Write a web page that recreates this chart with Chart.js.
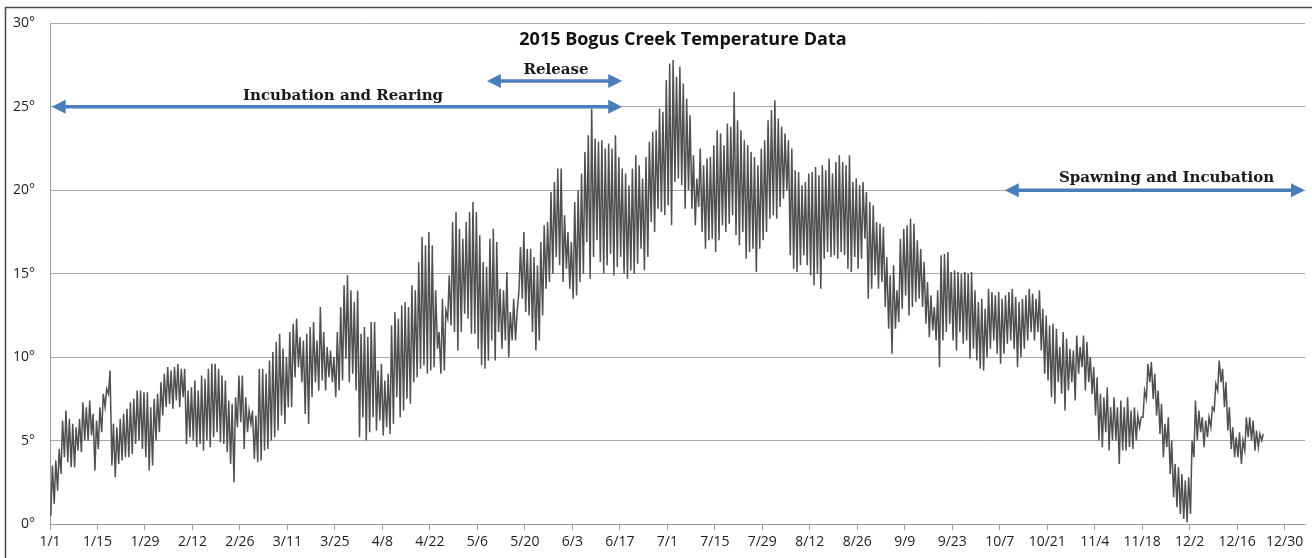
<!DOCTYPE html>
<html>
<head>
<meta charset="utf-8">
<script src="https://cdn.jsdelivr.net/npm/chart.js@4.4.1/dist/chart.umd.min.js"></script>
<style>
  html, body { margin: 0; padding: 0; background: #ffffff; }
  #c { display: block; }
</style>
</head>
<body>
<canvas id="c" width="1312" height="558"></canvas>
<script>
// ---- Data (daily minimum / maximum water temperature, °C), day 0 = 1/1 ----
const dailyMin = [
 0.5,1.2,2.0,3.0,4.0,3.7,3.4,3.4,4.4,4.3, 5.0,5.0,5.3,3.2,4.5,5.5,7.0,7.8,3.5,2.8,
 3.6,3.8,4.0,4.0,4.2,4.8,5.0,4.5,4.0,3.2, 3.5,5.0,5.5,6.5,7.0,7.2,6.9,7.4,7.0,7.6,
 4.8,5.2,5.0,4.6,4.8,4.4,5.0,4.6,5.2,5.5, 4.9,4.8,4.3,3.6,2.5,5.8,6.1,4.5,5.5,6.0,
 3.9,3.7,3.8,4.4,4.5,5.0,5.2,5.6,6.5,6.0, 7.0,7.0,8.8,9.4,8.5,6.6,6.0,7.6,8.5,8.0,
 8.6,8.0,8.8,8.5,7.6,8.0,8.6,9.9,8.5,9.0, 8.0,5.2,6.4,5.0,5.5,6.4,5.6,6.2,5.3,5.8,
 5.4,6.0,7.6,6.4,6.8,7.5,7.2,8.5,8.8,9.3, 9.5,9.0,9.2,9.4,10.5,9.0,9.2,12.3,11.9,11.5,
 10.4,11.5,12.6,12.3,11.4,11.4,10.5,9.5,9.3,9.8, 11.0,9.8,11.5,10.5,11.0,10.0,11.0,11.0,13.9,13.5,
 12.7,12.5,11.5,10.4,11.0,12.5,14.1,14.5,15.0,16.0, 15.5,14.5,15.3,14.1,13.5,13.7,14.5,15.0,16.9,14.7,
 16.0,17.0,15.7,15.0,15.5,16.2,14.9,15.4,16.0,15.0, 14.7,15.2,15.0,15.6,16.5,15.2,16.0,18.1,17.5,18.9,
 18.7,18.5,19.1,17.9,20.5,20.7,20.3,18.9,20.0,18.9, 17.9,19.0,17.5,16.5,17.0,17.1,16.3,17.0,17.9,17.5,
 18.0,18.5,17.3,16.7,17.5,15.9,16.3,16.5,15.1,16.5, 17.0,17.5,18.3,18.5,18.3,19.0,19.5,20.0,16.1,15.3,
 15.1,15.5,16.1,15.5,14.9,14.3,15.0,14.1,15.9,16.3, 16.0,16.1,15.9,16.3,16.1,15.3,15.1,16.0,15.3,15.9,
 17.1,13.5,14.1,14.9,14.1,14.5,13.0,11.7,10.2,11.7, 12.1,12.9,13.7,12.5,13.0,13.3,13.5,13.0,12.0,11.2,
 11.6,11.0,9.4,11.0,11.5,12.0,11.0,10.4,11.5,10.8, 11.0,9.9,10.5,9.8,9.3,9.2,10.0,10.5,11.0,10.2,
 9.6,10.2,10.8,11.0,10.5,9.4,10.0,10.5,11.0,11.5, 11.0,11.5,10.4,9.0,8.6,7.6,7.2,8.5,7.8,6.8,
 8.0,8.5,7.4,9.0,9.4,8.0,8.5,7.8,6.5,5.0, 4.6,5.5,4.4,5.0,5.0,3.6,4.4,4.4,4.6,4.5,
 5.0,5.8,6.4,7.5,8.5,7.5,6.5,5.4,4.0,4.6, 3.0,1.6,1.0,0.6,0.3,0.1,0.6,4.0,5.0,5.5,
 4.6,5.2,5.8,6.8,8.0,8.5,7.0,5.6,4.5,4.0, 4.0,3.6,4.4,5.2,5.0,4.4,4.6,5.0
];
const dailyMax = [
 3.5,3.8,4.5,6.2,6.8,6.3,6.0,5.8,6.3,7.3, 7.0,7.4,6.6,6.2,7.0,7.8,8.1,9.2,6.0,5.8,
 6.3,6.6,6.9,7.3,7.5,8.0,8.0,7.9,7.9,7.0, 7.5,7.8,8.5,9.0,9.4,9.2,9.4,9.6,9.3,9.3,
 8.0,8.2,8.6,8.0,8.9,8.7,9.3,9.6,9.6,9.3, 8.9,8.6,7.4,7.2,7.6,8.9,8.9,7.6,6.8,6.8,
 6.5,9.3,9.3,9.0,9.8,10.3,10.9,11.4,10.5,10.0, 11.5,12.0,12.3,11.2,11.0,11.4,11.8,12.1,11.0,13.0,
 11.5,10.6,10.4,10.0,11.5,13.0,14.3,14.9,14.0,13.3, 14.0,11.4,11.8,11.2,12.1,12.1,9.2,9.6,8.6,9.0,
 11.9,12.7,12.3,13.1,13.3,13.0,14.3,14.0,15.7,17.2, 16.7,17.5,16.7,14.0,11.5,13.5,12.8,14.9,18.1,18.7,
 17.7,17.1,18.1,18.7,19.3,18.7,17.3,15.7,15.4,17.1, 17.7,16.9,14.1,14.0,15.1,12.7,13.5,12.7,16.6,17.5,
 16.5,16.5,16.0,15.5,16.9,17.9,18.1,19.9,20.5,21.3, 21.3,18.5,17.5,16.9,19.3,20.0,21.0,22.3,23.3,24.9,
 23.1,22.9,23.0,22.5,22.8,22.5,23.3,22.0,21.3,21.0, 20.3,21.3,22.1,21.5,20.7,22.0,22.9,23.5,23.6,24.9,
 24.7,26.6,27.6,27.8,26.8,27.4,26.4,25.5,24.5,22.1, 20.7,22.5,21.5,21.9,22.0,22.7,23.6,23.4,22.7,24.0,
 23.8,25.9,24.2,23.6,23.0,22.7,22.3,22.0,21.5,22.5, 23.0,24.2,24.8,25.4,24.3,23.8,23.4,23.0,22.5,21.2,
 21.1,20.3,20.5,21.0,21.1,21.4,20.9,21.5,21.2,21.9, 21.0,21.7,22.1,21.7,21.5,22.1,20.5,20.7,20.3,20.5,
 19.9,19.3,19.1,18.1,18.0,17.8,16.0,14.9,15.5,14.0, 17.1,17.7,17.9,18.3,18.0,17.0,16.5,15.7,14.5,13.7,
 13.0,14.0,16.1,16.2,16.3,15.1,15.2,15.1,15.0,15.1, 15.0,15.1,14.0,13.3,13.5,12.9,14.1,13.9,13.7,13.9,
 13.5,13.7,13.9,14.1,13.6,13.3,13.5,13.7,14.1,13.8, 13.5,14.0,12.9,12.5,11.9,12.0,11.7,10.6,11.5,11.1,
 10.5,10.4,11.3,10.6,11.3,10.9,10.0,9.4,8.8,7.8, 7.6,8.2,7.0,7.6,7.0,7.4,7.0,7.6,6.8,7.0,
 6.5,6.4,8.0,9.6,9.7,9.0,8.0,7.2,6.0,6.4, 5.0,3.6,3.4,3.0,2.6,2.8,5.0,7.4,6.8,6.4,
 6.2,6.4,7.0,8.4,9.8,9.3,8.5,7.0,5.8,5.2, 5.5,5.0,6.4,6.4,6.2,5.6,5.4,5.4
];
const dayLabels = ['1/1','1/15','1/29','2/12','2/26','3/11','3/25','4/8','4/22','5/6','5/20','6/3','6/17',
  '7/1','7/15','7/29','8/12','8/26','9/9','9/23','10/7','10/21','11/4','11/18','12/2','12/16','12/30'];
const tempTicks = [0, 5, 10, 15, 20, 25, 30];
const titleText = '2015 Bogus Creek Temperature Data';
// annotation periods: [label, startDay, endDay, level °C]
const periods = [
  ['Incubation and Rearing', 0.5, 168.7, 25.0],
  ['Release', 128.8, 168.7, 26.55],
  ['Spawning and Incubation', 281.5, 370, 20.0]
];

// ---- Build the line: each day contributes its minimum (morning) then maximum (afternoon) ----
const points = [];
for (let i = 0; i < dailyMin.length; i++) {
  points.push({ x: i + 0.25, y: dailyMin[i] });
  points.push({ x: i + 0.7, y: dailyMax[i] });
}

const TICK_STEP = 14;
const tickFont = { family: "'Open Sans', 'Noto Sans', sans-serif", size: 14 };

const framePlugin = {
  id: 'frame',
  beforeDraw(chart) {
    const ctx = chart.ctx;
    ctx.save();
    ctx.fillStyle = '#ffffff';
    ctx.fillRect(0, 0, chart.width, chart.height);
    ctx.strokeStyle = '#4a4a4a';
    ctx.lineWidth = 1.5;
    ctx.strokeRect(5.5, 7.5, chart.width + 50, chart.height + 50);
    ctx.restore();
  }
};

const annotationPlugin = {
  id: 'periods',
  afterDatasetsDraw(chart) {
    const ctx = chart.ctx;
    const xs = chart.scales.x, ys = chart.scales.y;
    ctx.save();
    // title
    ctx.fillStyle = '#111';
    ctx.font = "bold 18px 'Open Sans', sans-serif";
    ctx.textAlign = 'center';
    ctx.textBaseline = 'middle';
    ctx.fillText(titleText, xs.getPixelForValue(186.6), ys.getPixelForValue(29.0));
    // arrows
    const blue = '#4a7ebb';
    periods.forEach(([label, d0, d1, lvl]) => {
      const x0 = xs.getPixelForValue(d0), x1 = xs.getPixelForValue(d1), y = ys.getPixelForValue(lvl);
      const hl = 14, hw = 7;
      ctx.strokeStyle = blue; ctx.fillStyle = blue; ctx.lineWidth = 3.5;
      ctx.beginPath(); ctx.moveTo(x0 + hl - 2, y); ctx.lineTo(x1 - hl + 2, y); ctx.stroke();
      ctx.beginPath(); ctx.moveTo(x0, y); ctx.lineTo(x0 + hl, y - hw); ctx.lineTo(x0 + hl, y + hw); ctx.closePath(); ctx.fill();
      ctx.beginPath(); ctx.moveTo(x1, y); ctx.lineTo(x1 - hl, y - hw); ctx.lineTo(x1 - hl, y + hw); ctx.closePath(); ctx.fill();
    });
    // labels
    ctx.fillStyle = '#1a1a1a';
    ctx.font = "bold 15px 'DejaVu Serif', serif";
    ctx.textAlign = 'center';
    ctx.textBaseline = 'middle';
    const labelPos = { 'Incubation and Rearing': [86.4, 25.65], 'Release': [149.2, 27.2], 'Spawning and Incubation': [329.2, 20.72] };
    periods.forEach(([label]) => {
      const p = labelPos[label];
      ctx.fillText(label, xs.getPixelForValue(p[0]), ys.getPixelForValue(p[1]));
    });
    ctx.restore();
  }
};

new Chart(document.getElementById('c'), {
  type: 'line',
  data: {
    datasets: [{
      data: points,
      borderColor: '#505050',
      borderWidth: 1.5,
      pointRadius: 0,
      tension: 0,
      fill: false
    }]
  },
  options: {
    responsive: false,
    animation: false,
    layout: { padding: { left: 0, right: 7, top: 20, bottom: 0 } },
    plugins: { legend: { display: false }, tooltip: { enabled: false }, title: { display: false } },
    scales: {
      x: {
        type: 'linear',
        min: 0,
        max: 370,
        afterBuildTicks: s => { s.ticks = dayLabels.map((_, i) => ({ value: i * TICK_STEP })); },
        afterFit: s => { s.height = 34; },
        ticks: {
          autoSkip: false, maxRotation: 0, minRotation: 0,
          callback: v => dayLabels[Math.round(v / TICK_STEP)],
          font: tickFont, color: '#1e1e1e', padding: 4
        },
        grid: { drawOnChartArea: false, drawTicks: true, tickLength: 6, color: '#9a9a9a' },
        border: { color: '#9a9a9a' }
      },
      y: {
        min: 0,
        max: 30,
        afterBuildTicks: s => { s.ticks = tempTicks.map(v => ({ value: v })); },
        afterFit: s => { s.width = 50; },
        ticks: { callback: v => v + '°', font: tickFont, color: '#1e1e1e', padding: 15 },
        grid: { color: '#a8a8a8', drawTicks: false },
        border: { color: '#9a9a9a' }
      }
    }
  },
  plugins: [framePlugin, annotationPlugin]
});
</script>
</body>
</html>
